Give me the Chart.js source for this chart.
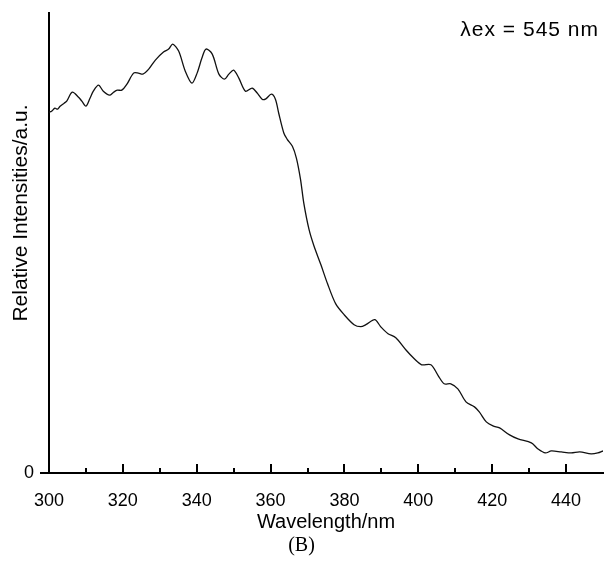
<!DOCTYPE html>
<html>
<head>
<meta charset="utf-8">
<script src="https://cdn.jsdelivr.net/npm/chart.js@4/dist/chart.umd.min.js"></script>
<style>
  html, body { margin: 0; padding: 0; background: #fff; }
  canvas { display: block; }
</style>
</head>
<body>
<canvas id="spectrumChart" width="604" height="572"></canvas>
<script>
// excitation spectrum (a.u.)
const wavelengths = [
  300.0, 300.7, 301.6, 302.3, 303.0, 304.1, 304.8, 306.3, 308.0, 308.9,
  310.0, 311.1, 312.0, 313.4, 314.7, 316.4, 317.5, 318.5, 319.7, 321.1,
  322.9, 324.2, 325.4, 327.0, 328.8, 331.0, 332.4, 333.5, 335.1, 336.9,
  338.7, 340.1, 341.4, 342.5, 344.2, 346.0, 347.5, 348.7, 350.0, 351.4,
  353.2, 355.0, 356.4, 357.7, 358.6, 360.2, 361.3, 362.2, 363.6, 364.5,
  365.9, 367.0, 368.1, 369.0, 370.4, 371.7, 373.6, 375.4, 377.6, 379.9,
  382.6, 384.4, 385.8, 388.2, 389.8, 391.8, 393.9, 396.6, 398.9, 400.9,
  403.4, 405.4, 407.0, 408.8, 410.7, 412.9, 415.2, 416.5, 418.4, 420.2,
  422.0, 424.7, 427.0, 430.6, 432.4, 434.4, 436.0, 438.7, 441.4, 443.7,
  446.8, 448.6, 450.0
];
const intensities = [
  360, 361, 364, 363, 366, 369, 371, 380, 375, 371,
  366, 374, 381, 387, 381, 377, 380, 382, 382, 388,
  399, 399, 398, 403, 412, 420, 423, 428, 421, 401,
  389, 399, 414, 423, 418, 398, 393, 398, 402, 394,
  381, 384, 379, 373, 373, 378, 373, 359, 339, 333,
  326, 314, 293, 269, 243, 227, 208, 189, 169, 158,
  148, 146, 148, 153, 146, 139, 135, 123, 114, 108,
  108, 97, 89, 89, 84, 71, 66, 61, 51, 47,
  45, 38, 34, 30, 24, 20, 22, 21, 20, 21,
  19, 20, 22
];
const xLabelTicks = [300, 320, 340, 360, 380, 400, 420, 440];
const xMinorTicks = [310, 330, 350, 370, 390, 410, 430];
const yLabelTicks = [0];

const baseFont = "'Liberation Sans', Arial, Helvetica, sans-serif";

// x ticks point inward, long ones every 20 nm, short ones in between
const insideTicks = {
  id: 'insideTicks',
  afterDraw(chart) {
    const { ctx, chartArea, scales: { x } } = chart;
    ctx.save();
    ctx.strokeStyle = '#000';
    ctx.lineWidth = 2;
    xLabelTicks.concat(xMinorTicks).forEach(v => {
      const px = Math.round(x.getPixelForValue(v));
      const len = xLabelTicks.includes(v) ? 9 : 5;
      ctx.beginPath();
      ctx.moveTo(px, chartArea.bottom);
      ctx.lineTo(px, chartArea.bottom - len);
      ctx.stroke();
    });
    ctx.restore();
  }
};

// y title (sits above the centre of the axis) and the excitation note
const extraText = {
  id: 'extraText',
  afterDraw(chart) {
    const { ctx, chartArea } = chart;
    ctx.save();
    ctx.fillStyle = '#000';
    ctx.font = '21px ' + baseFont;
    ctx.translate(21, 213);
    ctx.rotate(-Math.PI / 2);
    ctx.textAlign = 'center';
    ctx.textBaseline = 'middle';
    ctx.fillText('Relative Intensities/a.u.', 0, 0);
    ctx.restore();

    ctx.save();
    ctx.fillStyle = '#000';
    ctx.font = '21px ' + baseFont;
    ctx.letterSpacing = '1px';
    ctx.textAlign = 'right';
    ctx.textBaseline = 'alphabetic';
    ctx.fillText('\u03bbex = 545 nm', chartArea.right - 4, 36);
    ctx.restore();
  }
};

const ctx = document.getElementById('spectrumChart').getContext('2d');
new Chart(ctx, {
  type: 'line',
  data: {
    datasets: [{
      data: wavelengths.map((w, i) => ({ x: w, y: intensities[i] })),
      borderColor: '#111',
      borderWidth: 1.3,
      pointRadius: 0,
      tension: 0.3,
      fill: false
    }]
  },
  options: {
    responsive: false,
    animation: false,
    layout: { padding: { top: 13, right: 1, bottom: 14, left: 0 } },
    plugins: {
      legend: { display: false },
      tooltip: { enabled: false },
      title: {
        display: true,
        position: 'bottom',
        text: '(B)',
        color: '#000',
        padding: { top: 0, bottom: 0 },
        font: { family: "'Liberation Serif', 'Times New Roman', serif", size: 20, weight: 'normal' }
      }
    },
    scales: {
      x: {
        type: 'linear',
        min: 300,
        max: 450,
        afterBuildTicks: s => { s.ticks = xLabelTicks.map(v => ({ value: v })); },
        afterFit: s => { s.height = 61; },
        grid: { display: false, drawTicks: false },
        border: { display: true, color: '#000', width: 2 },
        ticks: {
          color: '#000',
          padding: 17,
          maxRotation: 0,
          font: { family: baseFont, size: 18 }
        },
        title: {
          display: true,
          text: 'Wavelength/nm',
          color: '#000',
          padding: { top: 1, bottom: 0 },
          font: { family: baseFont, size: 20 }
        }
      },
      y: {
        min: 0,
        max: 459,
        afterBuildTicks: s => { s.ticks = yLabelTicks.map(v => ({ value: v })); },
        afterFit: s => { s.width = 49; s.paddingTop = 0; s.paddingBottom = 0; },
        grid: {
          display: true,
          drawOnChartArea: false,
          drawTicks: true,
          tickLength: 9,
          color: '#000',
          lineWidth: 2
        },
        border: { display: true, color: '#000', width: 2 },
        ticks: {
          color: '#000',
          padding: 6,
          font: { family: baseFont, size: 18 }
        }
      }
    }
  },
  plugins: [insideTicks, extraText]
});
</script>
</body>
</html>
